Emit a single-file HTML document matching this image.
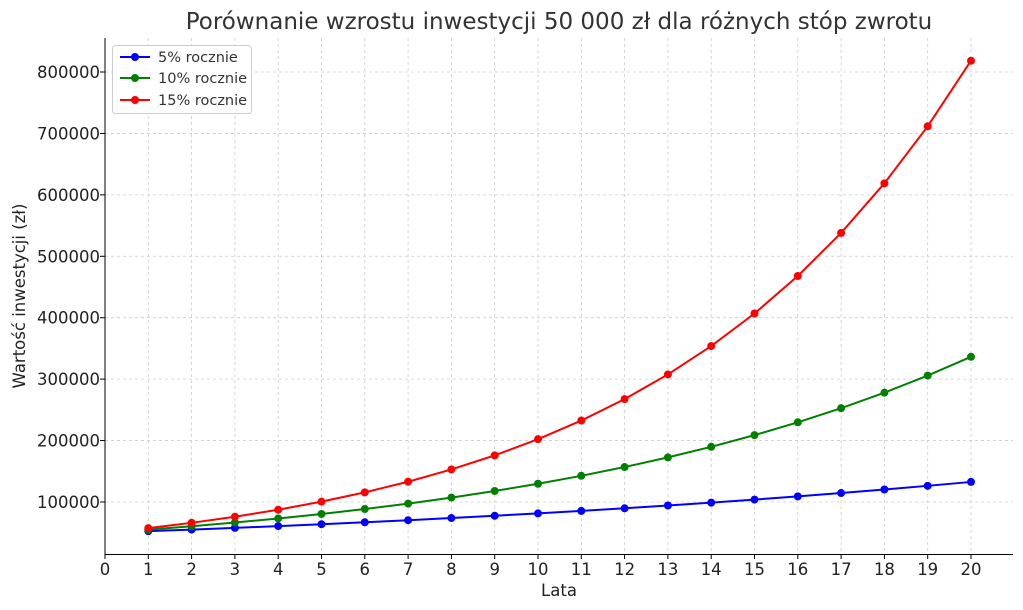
<!DOCTYPE html>
<html><head><meta charset="utf-8"><style>
html,body{margin:0;padding:0;background:#fff;}
svg{display:block;font-family:"DejaVu Sans","Liberation Sans",sans-serif;}
</style></head><body>
<svg id="s" width="1023" height="610" viewBox="0 0 1023 610">
<rect width="1023" height="610" fill="#fff"/>
<g id="grid" stroke="#cccccc" stroke-width="0.8" stroke-dasharray="3,3"></g>
<g id="series"></g>
<g stroke="#000" stroke-width="1" fill="none">
<line x1="105" y1="38" x2="105" y2="554.5"/>
<line x1="104.5" y1="554.5" x2="1013" y2="554.5"/>
</g>
<g id="ticks" stroke="#000" stroke-width="1"></g>
<g font-size="16.5" fill="#222" text-anchor="middle">
<text x="105" y="575">0</text><text x="148.3" y="575">1</text><text x="191.6" y="575">2</text><text x="234.9" y="575">3</text><text x="278.2" y="575">4</text><text x="321.5" y="575">5</text><text x="364.8" y="575">6</text><text x="408.1" y="575">7</text><text x="451.4" y="575">8</text><text x="494.7" y="575">9</text><text x="538" y="575">10</text><text x="581.3" y="575">11</text><text x="624.6" y="575">12</text><text x="667.9" y="575">13</text><text x="711.2" y="575">14</text><text x="754.5" y="575">15</text><text x="797.8" y="575">16</text><text x="841.1" y="575">17</text><text x="884.4" y="575">18</text><text x="927.7" y="575">19</text><text x="971" y="575">20</text>
</g>
<g font-size="16.5" fill="#222" text-anchor="end">
<text x="100" y="508">100000</text><text x="100" y="446.6">200000</text><text x="100" y="385.1">300000</text><text x="100" y="323.7">400000</text><text x="100" y="262.3">500000</text><text x="100" y="200.9">600000</text><text x="100" y="139.4">700000</text><text x="100" y="78">800000</text>
</g>
<text x="559" y="596" font-size="16.5" fill="#222" text-anchor="middle">Lata</text>
<text transform="translate(25,296) rotate(-90)" font-size="16.5" fill="#222" text-anchor="middle">Wartość inwestycji (zł)</text>
<text x="559" y="29" font-size="23" fill="#333" text-anchor="middle">Porównanie wzrostu inwestycji 50 000 zł dla różnych stóp zwrotu</text>
<g>
<rect x="112.5" y="45.5" width="139" height="68" rx="3" fill="#fff" stroke="#ccc"/>
<line x1="120" y1="57" x2="150" y2="57" stroke="#0000ff" stroke-width="2"/><circle cx="135" cy="57" r="4" fill="#0000ff"/>
<line x1="120" y1="78" x2="150" y2="78" stroke="#008000" stroke-width="2"/><circle cx="135" cy="78" r="4" fill="#008000"/>
<line x1="120" y1="100" x2="150" y2="100" stroke="#ff0000" stroke-width="2"/><circle cx="135" cy="100" r="4" fill="#ff0000"/>
<text x="158" y="62" font-size="14.5" fill="#333">5% rocznie</text>
<text x="158" y="83" font-size="14.5" fill="#333">10% rocznie</text>
<text x="158" y="105" font-size="14.5" fill="#333">15% rocznie</text>
</g>
</svg>
<script>
var NS="http://www.w3.org/2000/svg";
function X(n){return 105+n*43.3;}
function Y(v){return 502-(v-100000)/100000*61.43;}
function el(p,t,a){var e=document.createElementNS(NS,t);for(var k in a)e.setAttribute(k,a[k]);p.appendChild(e);return e;}
var g=document.getElementById("grid"),tk=document.getElementById("ticks");
for(var n=0;n<=20;n++){el(g,"line",{x1:X(n),y1:38,x2:X(n),y2:554});el(tk,"line",{x1:X(n),y1:554,x2:X(n),y2:559});}
for(var v=100000;v<=800000;v+=100000){el(g,"line",{x1:105,y1:Y(v),x2:1013,y2:Y(v)});el(tk,"line",{x1:100,y1:Y(v),x2:105,y2:Y(v)});}
var s=document.getElementById("series");
[[1.05,"#0000ff"],[1.10,"#008000"],[1.15,"#ff0000"]].forEach(function(r){
var pts=[];for(var n=1;n<=20;n++){pts.push(X(n)+","+Y(50000*Math.pow(r[0],n)));}
el(s,"polyline",{points:pts.join(" "),fill:"none",stroke:r[1],"stroke-width":2});
for(var n=1;n<=20;n++)el(s,"circle",{cx:X(n),cy:Y(50000*Math.pow(r[0],n)),r:4,fill:r[1]});
});
</script>
</body></html>
